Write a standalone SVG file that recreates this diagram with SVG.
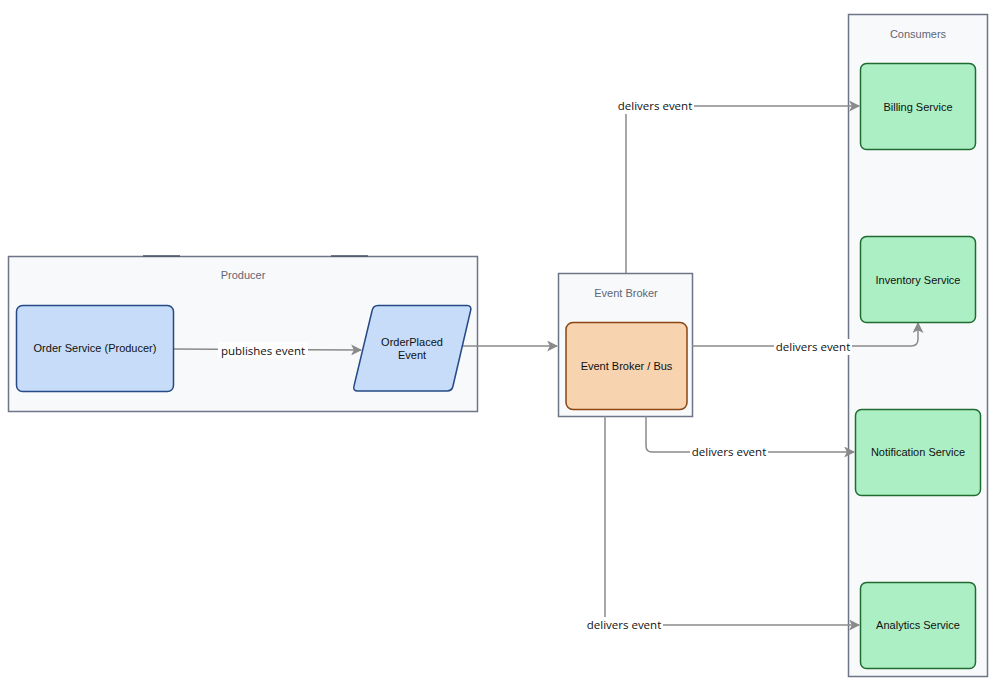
<svg xmlns="http://www.w3.org/2000/svg" width="1000" height="688" viewBox="0 0 1000 688">
<defs>
<style>
.cont{fill:#f8f9fb;stroke:#6e7587;stroke-width:1.5}
.clab{font-family:"Liberation Sans",Arial,sans-serif;font-size:11px;fill:#5f6675;text-anchor:middle}
.blue{fill:#c6dcf8;stroke:#264a86;stroke-width:1.5}
.green{fill:#acefc4;stroke:#1f6b30;stroke-width:1.5}
.orange{fill:#f7d3b0;stroke:#8a4512;stroke-width:1.5}
.nt{font-family:"Liberation Sans",Arial,sans-serif;font-size:11px;fill:#111;text-anchor:middle}
.edge{fill:none;stroke:#8a8a8a;stroke-width:1.5}
.el{font-family:"Open Sans","Noto Sans",sans-serif;font-size:11.5px;fill:#111;text-anchor:middle}
.bg{fill:#ffffff}
</style>
<marker id="arr" viewBox="0 0 10 10" refX="9" refY="5" markerWidth="11" markerHeight="11" markerUnits="userSpaceOnUse" orient="auto">
<path d="M0,0 L10,5 L0,10 L2.5,5 Z" fill="#8a8a8a"/>
</marker>
</defs>
<rect width="1000" height="688" fill="#ffffff"/>

<g id="producer">
<rect class="cont" x="8.5" y="256.5" width="469" height="155"/>
<line x1="143" y1="256" x2="180" y2="256" stroke="#4d5566" stroke-width="1.5"/>
<line x1="331" y1="256" x2="368" y2="256" stroke="#4d5566" stroke-width="1.5"/>
<text class="clab" x="243" y="279">Producer</text>
</g>
<g id="broker-group">
<rect class="cont" x="558.5" y="273.5" width="134" height="143"/>
<text class="clab" x="626" y="297">Event Broker</text>
</g>
<g id="consumers">
<rect class="cont" x="848.5" y="14.5" width="139" height="662"/>
<text class="clab" x="918" y="38">Consumers</text>
</g>

<g id="connectors">
<path class="edge" d="M173,349 L361,350" marker-end="url(#arr)"/>
<rect class="bg" x="218" y="342" width="90" height="16"/>
<text class="el" x="263" y="355">publishes event</text>

<path class="edge" d="M463,346 L557,346" marker-end="url(#arr)"/>

<path class="edge" d="M626,273 L626,106 L859,106" marker-end="url(#arr)"/>
<rect class="bg" x="616" y="98" width="78" height="16"/>
<text class="el" x="655" y="110">delivers event</text>

<path class="edge" d="M692,346 L911,346 Q918,346 918,339 L918,323" marker-end="url(#arr)"/>
<rect class="bg" x="774" y="339" width="78" height="16"/>
<text class="el" x="813" y="351">delivers event</text>

<path class="edge" d="M646,416 L646,446 Q646,452 652,452 L854,452" marker-end="url(#arr)"/>
<rect class="bg" x="690" y="444" width="78" height="16"/>
<text class="el" x="729" y="456">delivers event</text>

<path class="edge" d="M605,416 L605,625 L859,625" marker-end="url(#arr)"/>
<rect class="bg" x="585" y="617" width="78" height="16"/>
<text class="el" x="624" y="629">delivers event</text>
</g>

<g id="order-service">
<rect class="blue" x="16.5" y="305.5" width="157" height="86" rx="6"/>
<text class="nt" x="95" y="352">Order Service (Producer)</text>
</g>
<g id="order-placed-event">
<path class="blue" d="M378,305.5 L467,305.5 Q472,305.5 470.5,311 L453,386 Q452,391 447,391 L358,391 Q352.5,391 354,386 L372,311 Q373,305.5 378,305.5 Z"/>
<text class="nt" x="412" y="346">OrderPlaced</text>
<text class="nt" x="412" y="359">Event</text>
</g>
<g id="event-broker-bus">
<rect class="orange" x="566" y="322.5" width="121" height="87" rx="7"/>
<text class="nt" x="626.5" y="370">Event Broker / Bus</text>
</g>
<g id="billing-service">
<rect class="green" x="860.5" y="63.5" width="115" height="86" rx="6"/>
<text class="nt" x="918" y="111">Billing Service</text>
</g>
<g id="inventory-service">
<rect class="green" x="860.5" y="236.5" width="115" height="86" rx="6"/>
<text class="nt" x="918" y="284">Inventory Service</text>
</g>
<g id="notification-service">
<rect class="green" x="855.5" y="409.5" width="125" height="86" rx="6"/>
<text class="nt" x="918" y="456">Notification Service</text>
</g>
<g id="analytics-service">
<rect class="green" x="860.5" y="582.5" width="115" height="86" rx="6"/>
<text class="nt" x="918" y="629">Analytics Service</text>
</g>
</svg>
